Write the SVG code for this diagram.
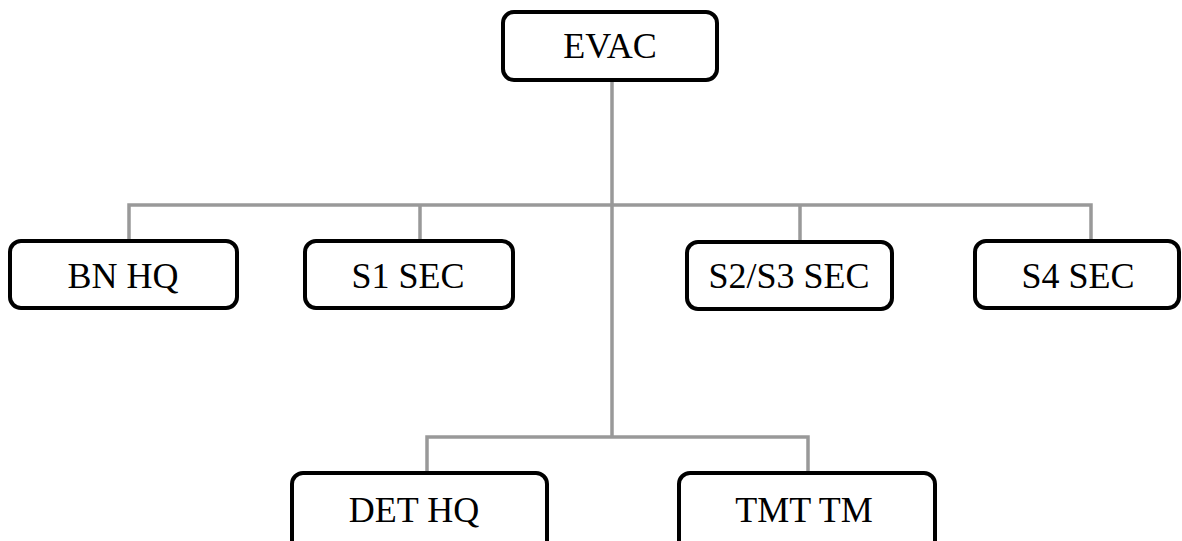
<svg xmlns="http://www.w3.org/2000/svg" width="1182" height="541" viewBox="0 0 1182 541">
<style>
.box{fill:#fff;stroke:#000;stroke-width:4}
.lbl{font-family:"Liberation Serif",serif;font-size:36px;fill:#000;text-anchor:middle}
.con{fill:none;stroke:#999;stroke-width:3.5}
</style>
<rect width="1182" height="541" fill="#fff"/>
<g id="connectors">
<path class="con" d="M612 80V437"/>
<path class="con" d="M129 241V205H1091V241"/>
<path class="con" d="M420 205V241"/>
<path class="con" d="M800 205V242"/>
<path class="con" d="M427 473V437H808V473"/>
</g>
<g id="evac"><rect class="box" x="503" y="12" width="214" height="68" rx="11"/><text class="lbl" x="610" y="58">EVAC</text></g>
<g id="bnhq"><rect class="box" x="10" y="241" width="227" height="67" rx="11"/><text class="lbl" x="123" y="288">BN HQ</text></g>
<g id="s1sec"><rect class="box" x="305" y="241" width="208" height="67" rx="11"/><text class="lbl" x="408" y="288">S1 SEC</text></g>
<g id="s2s3sec"><rect class="box" x="687" y="242" width="205" height="67" rx="11"/><text class="lbl" x="789" y="288">S2/S3 SEC</text></g>
<g id="s4sec"><rect class="box" x="975" y="241" width="204" height="67" rx="11"/><text class="lbl" x="1078" y="288">S4 SEC</text></g>
<g id="dethq"><rect class="box" x="292" y="473" width="255" height="80" rx="11"/><text class="lbl" x="414" y="522">DET HQ</text></g>
<g id="tmttm"><rect class="box" x="679" y="473" width="256" height="80" rx="11"/><text class="lbl" x="804" y="522">TMT TM</text></g>
</svg>
